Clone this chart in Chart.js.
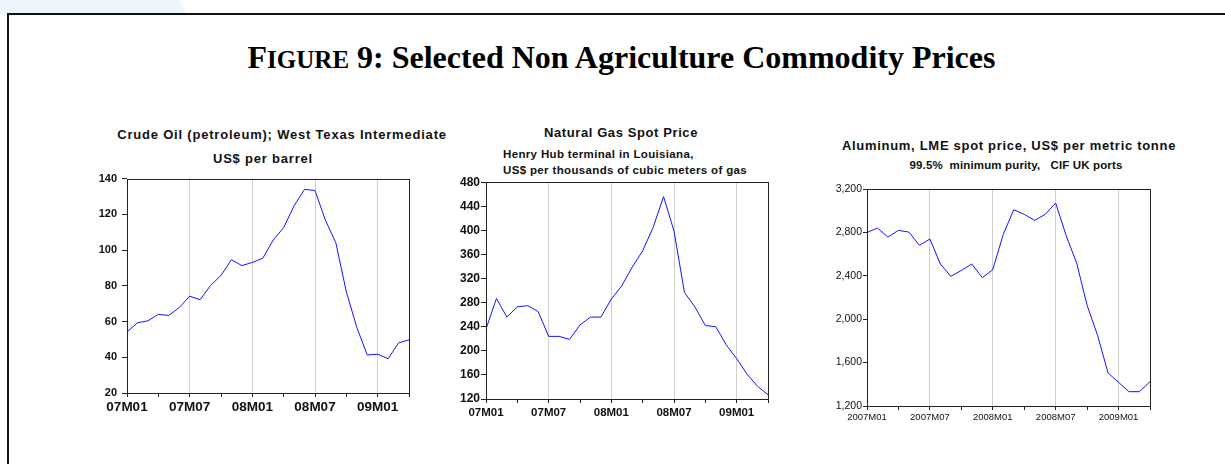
<!DOCTYPE html>
<html>
<head>
<meta charset="utf-8">
<script src="https://cdn.jsdelivr.net/npm/chart.js@4.4.0/dist/chart.umd.min.js"></script>
<style>
  html, body { margin: 0; padding: 0; background: #fff; }
  body { width: 1225px; height: 464px; position: relative; overflow: hidden;
         font-family: "Liberation Sans", Arial, sans-serif; }
  .tab { position: absolute; left: 0; top: 0; width: 186px; height: 14px; background: #eef5fb;
         clip-path: polygon(0 0, 180px 0, 186px 14px, 0 14px); }
  .frame { position: absolute; left: 7px; top: 13px; right: -10px; bottom: -10px;
           border-left: 2px solid #111; border-top: 2px solid #111; }
  .fig { position: absolute; left: 0; width: 1243px; top: 40px; text-align: center;
         font-family: "Liberation Serif", "Times New Roman", serif; font-weight: bold;
         font-size: 32px; line-height: 34px; color: #000; }
  .fig .sc { font-size: 25px; }
  .t { position: absolute; white-space: pre; font-weight: bold; color: #111; line-height: 1; }
  .c { transform: translate(-50%, -50%); }
  .l { transform: translate(0, -50%); }
  canvas { position: absolute; }
</style>
</head>
<body>
<div class="tab"></div>
<div class="frame"></div>
<div class="fig">F<span class="sc">IGURE</span> 9: Selected Non Agriculture Commodity Prices</div>

<div class="t c" style="left:282px;top:134px;font-size:13px;letter-spacing:0.8px;">Crude Oil (petroleum); West Texas Intermediate</div>
<div class="t c" style="left:263px;top:158px;font-size:13px;letter-spacing:0.8px;">US$ per barrel</div>

<div class="t c" style="left:621px;top:132px;font-size:13px;letter-spacing:0.6px;">Natural Gas Spot Price</div>
<div class="t l" style="left:503px;top:155px;font-size:11.5px;letter-spacing:0.35px;">Henry Hub terminal in Louisiana,</div>
<div class="t l" style="left:503px;top:171px;font-size:11.5px;letter-spacing:0.35px;">US$ per thousands of cubic meters of gas</div>

<div class="t c" style="left:1009px;top:145px;font-size:13px;letter-spacing:0.7px;">Aluminum, LME spot price, US$ per metric tonne</div>
<div class="t c" style="left:1016px;top:166px;font-size:11.5px;letter-spacing:0.15px;">99.5%  minimum purity,   CIF UK ports</div>

<canvas id="oil"></canvas>
<canvas id="gas"></canvas>
<canvas id="alu"></canvas>

<script>
// Monthly observations, 2007M01 .. 2009M04
const months = [
  '07M01','07M02','07M03','07M04','07M05','07M06','07M07','07M08','07M09','07M10','07M11','07M12',
  '08M01','08M02','08M03','08M04','08M05','08M06','08M07','08M08','08M09','08M10','08M11','08M12',
  '09M01','09M02','09M03','09M04'
];

// Labels shown every six months on the date axis
const shortTickLabels = ['07M01', '07M07', '08M01', '08M07', '09M01'];
const longTickLabels = ['2007M01', '2007M07', '2008M01', '2008M07', '2009M01'];

// Crude oil, WTI, US$ per barrel
const crudeOil = [54.2, 59.3, 60.4, 64.0, 63.4, 67.8, 74.2, 72.2, 80.2, 85.8, 94.6, 91.3,
                  93.1, 95.4, 105.6, 112.6, 124.8, 134.0, 133.3, 116.7, 104.0, 76.6, 56.8, 41.3,
                  41.7, 39.2, 48.0, 49.8];

// Natural gas, Henry Hub, US$ per thousand cubic meters
const naturalGas = [236, 287, 256, 273, 275, 265, 224, 224, 219, 243, 256, 256,
                    286, 308, 339, 366, 405, 456, 399, 297, 273, 242, 240, 210,
                    187, 161, 141, 127];

// Aluminum, LME spot, US$ per metric tonne
const aluminum = [2800, 2840, 2757, 2819, 2803, 2681, 2739, 2509, 2395, 2450, 2509, 2383,
                  2456, 2782, 3009, 2966, 2911, 2966, 3071, 2770, 2518, 2128, 1851, 1504,
                  1418, 1332, 1332, 1424];

// Value-axis ranges
const oilAxis = { min: 20, max: 140, step: 20 };
const gasAxis = { min: 120, max: 480, step: 40 };
const aluAxis = { min: 1200, max: 3200, step: 400 };

// Closed box around each plot area
const plotBox = {
  id: 'plotBox',
  afterDraw(chart) {
    const { ctx, chartArea: a } = chart;
    ctx.save();
    ctx.strokeStyle = '#222';
    ctx.lineWidth = 1;
    ctx.strokeRect(Math.round(a.left) + 0.5, Math.round(a.top) + 0.5,
                   Math.round(a.right - a.left), Math.round(a.bottom - a.top));
    ctx.restore();
  }
};

function makePanel(id, values, axis, tickLabels, style) {
  const area = style.area;
  const YW = 44, XH = 28, PL = 0, PT = 8, PR = 8, PB = 0;
  const cv = document.getElementById(id);
  const w = (area.r - area.l) + YW + PL + PR;
  const h = (area.b - area.t) + XH + PT + PB;
  cv.width = w; cv.height = h;
  cv.style.left = (area.l - YW - PL) + 'px';
  cv.style.top = (area.t - PT) + 'px';
  cv.style.width = w + 'px';
  cv.style.height = h + 'px';

  new Chart(cv, {
    type: 'line',
    data: {
      labels: months,
      datasets: [{
        data: values,
        borderColor: '#1414ff',
        borderWidth: 1,
        pointRadius: 0,
        tension: 0,
        fill: false
      }]
    },
    plugins: [plotBox],
    options: {
      responsive: false,
      animation: false,
      events: [],
      layout: { padding: { left: PL, top: PT, right: PR, bottom: PB } },
      plugins: { legend: { display: false }, tooltip: { enabled: false }, title: { display: false } },
      scales: {
        x: {
          type: 'category',
          offset: false,
          afterFit(scale) { scale.height = XH; },
          border: { display: false },
          grid: {
            color: ctx => (ctx.index % 6 === 0 && ctx.index > 0 && ctx.index < months.length - 1) ? '#cfcfcf' : 'rgba(0,0,0,0)',
            lineWidth: 1,
            tickColor: ctx => (ctx.index % 3 === 0) ? '#222' : 'rgba(0,0,0,0)',
            tickLength: 4,
            tickWidth: 1
          },
          ticks: {
            autoSkip: false,
            maxRotation: 0,
            minRotation: 0,
            padding: style.xPad,
            color: '#111',
            font: style.xFont,
            callback(value, index) { return index % 6 === 0 ? tickLabels[index / 6] : ''; }
          }
        },
        y: {
          min: axis.min,
          max: axis.max,
          afterFit(scale) { scale.width = YW; },
          border: { display: false },
          grid: {
            color: 'rgba(0,0,0,0)',
            tickColor: '#222',
            tickLength: style.yTick,
            tickWidth: 1
          },
          ticks: {
            stepSize: axis.step,
            padding: style.yPad,
            color: '#111',
            font: style.yFont,
            callback: v => style.comma ? v.toLocaleString('en-US') : String(v)
          }
        }
      }
    }
  });
}

const sans = '"Liberation Sans", Arial, sans-serif';

makePanel('oil', crudeOil, oilAxis, shortTickLabels, {
  area: { l: 127, t: 175, r: 409, b: 393 },
  xFont: { family: sans, size: 13.5, weight: 'bold' },
  yFont: { family: sans, size: 11, weight: 'bold' },
  xPad: 2, yPad: 5, yTick: 5, comma: false
});

makePanel('gas', naturalGas, gasAxis, shortTickLabels, {
  area: { l: 486, t: 182, r: 768, b: 399 },
  xFont: { family: sans, size: 11.5, weight: 'bold' },
  yFont: { family: sans, size: 12, weight: 'bold' },
  xPad: 3, yPad: 1, yTick: 5, comma: false
});

makePanel('alu', aluminum, aluAxis, longTickLabels, {
  area: { l: 867, t: 189, r: 1150, b: 406 },
  xFont: { family: sans, size: 9.5, weight: 'normal' },
  yFont: { family: sans, size: 10.5, weight: 'normal' },
  xPad: 2, yPad: 1, yTick: 4, comma: true
});
</script>
</body>
</html>
